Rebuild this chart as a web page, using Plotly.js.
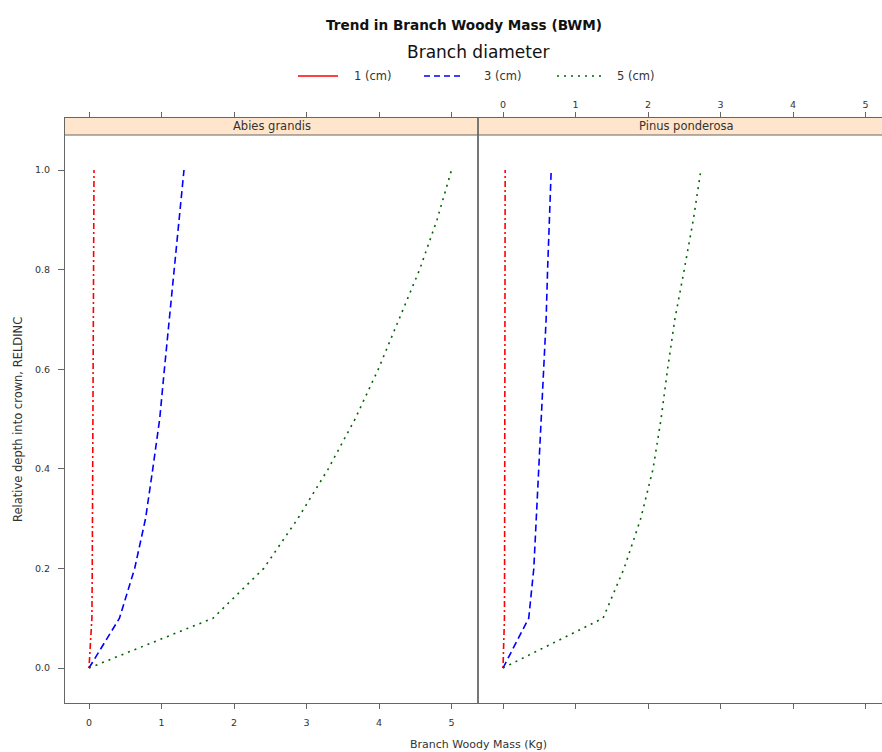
<!DOCTYPE html>
<html>
<head>
<meta charset="utf-8">
<script src="https://cdn.plot.ly/plotly-3.0.1.min.js"></script>
<style>
  html, body { margin: 0; padding: 0; background: #ffffff; overflow: hidden; }
  #chart { width: 882px; height: 752px; }
</style>
</head>
<body>
<div id="chart"></div>
<script>
// Relative depth into crown (RELDINC), shared by every curve
const relDepth = [0.0, 0.1, 0.2, 0.3, 0.4, 0.5, 0.6, 0.7, 0.8, 0.9, 1.0];

// Branch woody mass (kg) by branch diameter, Abies grandis
const abiesD1 = [0.0, 0.040, 0.045, 0.050, 0.052, 0.055, 0.058, 0.060, 0.063, 0.066, 0.069];
const abiesD3 = [0.0, 0.42, 0.63, 0.78, 0.88, 0.975, 1.04, 1.11, 1.175, 1.24, 1.31];
const abiesD5 = [0.0, 1.71, 2.41, 2.88, 3.30, 3.67, 3.99, 4.27, 4.56, 4.80, 5.00];

// Branch woody mass (kg) by branch diameter, Pinus ponderosa
const pinusD1 = [0.0, 0.020, 0.022, 0.024, 0.025, 0.026, 0.027, 0.028, 0.029, 0.030, 0.030];
const pinusD3 = [0.0, 0.355, 0.425, 0.46, 0.50, 0.53, 0.565, 0.595, 0.615, 0.64, 0.665];
const pinusD5 = [0.0, 1.38, 1.67, 1.90, 2.07, 2.18, 2.27, 2.37, 2.50, 2.625, 2.73];

const species = ["Abies grandis", "Pinus ponderosa"];
const diameterLabels = ["1 (cm)", "3 (cm)", "5 (cm)"];
const xTicks = [0, 1, 2, 3, 4, 5];
const yTicks = [0.0, 0.2, 0.4, 0.6, 0.8, 1.0];
const yTickText = ["0.0", "0.2", "0.4", "0.6", "0.8", "1.0"];

// Line styles per diameter class
const styles = [
  { color: "#ff0000", dash: "2px,3px,6px,3px", legendDash: "solid" },
  { color: "#0000ff", dash: "7px,4px", legendDash: "6px,4px" },
  { color: "#006400", dash: "2px,5px", legendDash: "2px,5px" }
];

const W = 882, H = 752;
const plotTop = 118, plotBottom = 703, stripBottom = 135;
const leftEdge = 65, divider = 479;
const px = v => v / W;
const py = v => (plotBottom - v) / (plotBottom - plotTop);

const FONT = "DejaVu Sans, Verdana, sans-serif";
const AX = "#666666";

const panels = [
  { series: [abiesD1, abiesD3, abiesD5], xa: "x", ya: "y" },
  { series: [pinusD1, pinusD3, pinusD5], xa: "x2", ya: "y2" }
];

const traces = [];
panels.forEach(p => {
  p.series.forEach((vals, i) => {
    traces.push({
      type: "scatter",
      mode: "lines",
      x: vals,
      y: relDepth,
      xaxis: p.xa,
      yaxis: p.ya,
      name: diameterLabels[i],
      line: { color: styles[i].color, width: 1.6, dash: styles[i].dash },
      hoverinfo: "skip",
      showlegend: false
    });
  });
});

const tickFont = { family: FONT, size: 9.5, color: "#333333" };
const xCommon = {
  tickvals: xTicks,
  ticks: "outside",
  ticklen: 5,
  tickcolor: AX,
  showline: true,
  linecolor: AX,
  linewidth: 1,
  mirror: "ticks",
  showgrid: false,
  zeroline: false,
  tickfont: tickFont,
  fixedrange: true
};

const yRange = [-(plotBottom - 668) / 498, 1 + (170 - plotTop) / 498];

// Strip backgrounds and their lower border
const shapes = [
  { type: "rect", xref: "paper", yref: "paper", x0: px(leftEdge), x1: 1.02, y0: py(stripBottom), y1: 1,
    fillcolor: "#FFE5CC", line: { width: 0 }, layer: "below" },
  { type: "line", xref: "paper", yref: "paper", x0: px(leftEdge), x1: 1.02, y0: py(stripBottom), y1: py(stripBottom),
    line: { color: AX, width: 1 } }
];

// Key: line samples with their labels
const keyY = py(76);
const keySpans = [[298, 338], [424, 464], [557, 602]];
const keyTextX = [372, 502, 635];
keySpans.forEach((s, i) => {
  shapes.push({ type: "line", xref: "paper", yref: "paper", x0: px(s[0]), x1: px(s[1]), y0: keyY, y1: keyY,
    line: { color: styles[i].color, width: 1.6, dash: styles[i].legendDash } });
});

const annotations = [
  { text: "<b>Trend in Branch Woody Mass (BWM)</b>", x: px(464), y: py(25), xref: "paper", yref: "paper",
    showarrow: false, xanchor: "center", yanchor: "middle", font: { family: FONT, size: 13.6, color: "#111111" } },
  { text: "Branch diameter", x: px(478), y: py(52), xref: "paper", yref: "paper",
    showarrow: false, xanchor: "center", yanchor: "middle", font: { family: FONT, size: 17, color: "#111111" } },
  { text: species[0], x: px((leftEdge + divider) / 2), y: py(126.5), xref: "paper", yref: "paper",
    showarrow: false, xanchor: "center", yanchor: "middle", font: { family: FONT, size: 11.5, color: "#333333" } },
  { text: species[1], x: px(686), y: py(126.5), xref: "paper", yref: "paper",
    showarrow: false, xanchor: "center", yanchor: "middle", font: { family: FONT, size: 11.5, color: "#333333" } },
  { text: "Branch Woody Mass (Kg)", x: px(478), y: py(744), xref: "paper", yref: "paper",
    showarrow: false, xanchor: "center", yanchor: "middle", font: { family: FONT, size: 11, color: "#333333" } },
  { text: "Relative depth into crown, RELDINC", x: px(18), y: py(420), xref: "paper", yref: "paper",
    showarrow: false, xanchor: "center", yanchor: "middle", textangle: -90,
    font: { family: FONT, size: 11.5, color: "#333333" } }
];
diameterLabels.forEach((lab, i) => {
  annotations.push({ text: lab, x: px(keyTextX[i]), y: keyY, xref: "paper", yref: "paper",
    showarrow: false, xanchor: "center", yanchor: "middle", font: { family: FONT, size: 11.5, color: "#333333" } });
});

const layout = {
  width: W,
  height: H,
  margin: { l: 0, r: 0, t: plotTop, b: H - plotBottom, pad: 0 },
  paper_bgcolor: "#ffffff",
  plot_bgcolor: "#ffffff",
  showlegend: false,
  xaxis: Object.assign({}, xCommon, {
    domain: [px(leftEdge), px(divider)],
    range: [-0.331, 5.379],
    anchor: "y",
    side: "bottom",
    ticklabelstandoff: 6
  }),
  xaxis2: Object.assign({}, xCommon, {
    domain: [px(divider), 1],
    range: [-0.331, -0.331 + (W - divider) / 72.5],
    anchor: "y2",
    side: "top"
  }),
  yaxis: {
    domain: [0, 1],
    range: yRange,
    tickvals: yTicks,
    ticktext: yTickText,
    ticks: "outside",
    ticklen: 6,
    tickcolor: AX,
    showline: true,
    linecolor: AX,
    mirror: false,
    showgrid: false,
    zeroline: false,
    tickfont: tickFont,
    ticklabelstandoff: 6,
    anchor: "x",
    fixedrange: true
  },
  // The shared border between the two panels comes from this axis line
  yaxis2: {
    domain: [0, 1],
    range: yRange,
    showticklabels: false,
    ticks: "",
    showline: true,
    linecolor: "#777777",
    linewidth: 1.6,
    mirror: false,
    showgrid: false,
    zeroline: false,
    anchor: "x2",
    fixedrange: true
  },
  shapes: shapes,
  annotations: annotations
};

Plotly.newPlot("chart", traces, layout, { displayModeBar: false, staticPlot: true });
</script>
</body>
</html>
